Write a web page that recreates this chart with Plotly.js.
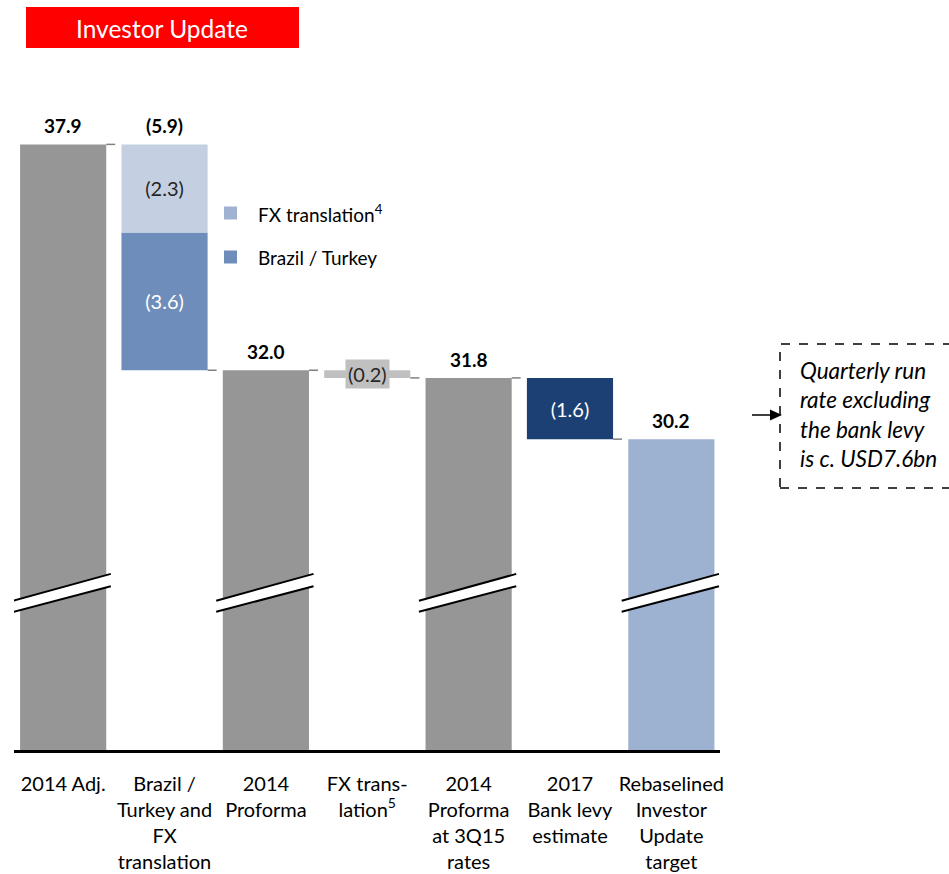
<!DOCTYPE html>
<html>
<head>
<meta charset="utf-8">
<script src="https://cdn.plot.ly/plotly-3.0.1.min.js"></script>
<style>html,body{margin:0;padding:0;background:#fff;}#chart{width:949px;height:874px;}</style>
</head>
<body>
<div id="chart"></div>
<script>
// ---- data ----
const categories = ["2014 Adj.", "Brazil /<br>Turkey and<br>FX<br>translation", "2014<br>Proforma", "FX trans-<br>lation<sup>5</sup>", "2014<br>Proforma<br>at 3Q15<br>rates", "2017<br>Bank levy<br>estimate", "Rebaselined<br>Investor<br>Update<br>target"];
const totalIdx = [0, 2, 4];
const totalValues = [37.9, 32.0, 31.8];
const targetIdx = [6];
const targetValues = [30.2];
const fxSegment = 2.3;          // FX translation part of step 1
const brazilSegment = 3.6;      // Brazil / Turkey part of step 1
const stepTotal = 5.9;
const fxStep = 0.2;             // FX translation step 3
const levyStep = 1.6;           // bank levy step 5
const legendNames = ["FX translation<sup>4</sup>", "Brazil / Turkey"];

// ---- styles ----
const FONT = "Lato, 'Open Sans', sans-serif";
const cGrey = "#969696", cFxLight = "#c4cfe2", cFxLegend = "#9fb2d1", cBrazil = "#6f8dba",
      cLevy = "#1c4073", cTarget = "#9db1d0", cSmall = "#c0c0c0";
const W = 0.85;
const L = 14, R = 229, T = 64, B = 124, WIDTH = 949, HEIGHT = 874;
const yMin = 22.08, yMax = 40;
const pw = WIDTH - L - R, ph = HEIGHT - T - B;
const px = x => (x - L) / pw;            // pixel -> paper x
const py = y => (HEIGHT - B - y) / ph;   // pixel -> paper y

const start = totalValues[0];
const afterStep1 = start - stepTotal;
const afterStep3 = afterStep1 - fxStep;
const afterStep5 = afterStep3 - levyStep;

const inFont = c => ({family: FONT, size: 20, color: c});
const traces = [
  {type: "bar", x: totalIdx, y: totalValues, width: W, marker: {color: cGrey}, showlegend: false, hoverinfo: "skip"},
  {type: "bar", x: targetIdx, y: targetValues, width: W, marker: {color: cTarget}, showlegend: false, hoverinfo: "skip"},
  {type: "bar", x: [1], y: [brazilSegment], base: [afterStep1], width: W, marker: {color: cBrazil}, showlegend: false,
   text: ["(" + brazilSegment.toFixed(1) + ")"], textposition: "inside", insidetextanchor: "middle",
   textfont: inFont("#ffffff"), hoverinfo: "skip"},
  {type: "bar", x: [1], y: [fxSegment], base: [afterStep1 + brazilSegment], width: W, marker: {color: cFxLight}, showlegend: false,
   text: ["(" + fxSegment.toFixed(1) + ")"], textposition: "inside", insidetextanchor: "middle",
   textfont: inFont("#262626"), hoverinfo: "skip"},
  {type: "bar", x: [3], y: [fxStep], base: [afterStep3], width: W, marker: {color: cSmall}, showlegend: false, hoverinfo: "skip"},
  {type: "bar", x: [5], y: [levyStep], base: [afterStep5], width: W, marker: {color: cLevy}, showlegend: false,
   text: ["(" + levyStep.toFixed(1) + ")"], textposition: "inside", insidetextanchor: "middle",
   textfont: inFont("#ffffff"), hoverinfo: "skip"}
];

const shapes = [];
const annotations = [];

// value labels on top
const valFont = {family: FONT, size: 19, color: "#000"};
totalIdx.forEach((i, k) => annotations.push({x: i, y: totalValues[k], xref: "x", yref: "y", text: "<b>" + totalValues[k].toFixed(1) + "</b>",
  showarrow: false, yanchor: "bottom", yshift: 5, font: valFont}));
targetIdx.forEach((i, k) => annotations.push({x: i, y: targetValues[k], xref: "x", yref: "y", text: "<b>" + targetValues[k].toFixed(1) + "</b>",
  showarrow: false, yanchor: "bottom", yshift: 5, font: valFont}));
annotations.push({x: 1, y: start, xref: "x", yref: "y", text: "<b>(" + stepTotal.toFixed(1) + ")</b>", showarrow: false, yanchor: "bottom", yshift: 5,
  font: valFont});
annotations.push({x: 3, y: afterStep3 + fxStep / 2, xref: "x", yref: "y", text: "(" + fxStep.toFixed(1) + ")", showarrow: false,
  bgcolor: cSmall, borderpad: 2, font: inFont("#262626")});

// dashed connectors
const levels = [start, afterStep1, afterStep1, afterStep3, afterStep3, afterStep5];
levels.forEach((v, i) => shapes.push({type: "line", xref: "x", yref: "y", x0: i + W / 2, x1: i + 1 - W / 2, y0: v, y1: v,
  line: {color: "#808080", width: 1.5, dash: "dash"}}));

// axis breaks
const breakIdx = [0, 2, 4, 6];
breakIdx.forEach(i => {
  const xl = i - 0.49, xr = i + 0.47;
  const uL = 25.98, uR = 26.68, lL = 25.69, lR = 26.36;
  shapes.push({type: "path", xref: "x", yref: "y", path: `M${xl},${uL} L${xr},${uR} L${xr},${lR} L${xl},${lL} Z`,
    fillcolor: "#ffffff", line: {width: 0}});
  shapes.push({type: "line", xref: "x", yref: "y", x0: xl, y0: uL, x1: xr, y1: uR, line: {color: "#000", width: 2}});
  shapes.push({type: "line", xref: "x", yref: "y", x0: xl, y0: lL, x1: xr, y1: lR, line: {color: "#000", width: 2}});
});

// legend (manual)
const legendColors = [cFxLegend, cBrazil];
const legendY = [213, 257];
legendNames.forEach((n, k) => {
  shapes.push({type: "rect", xref: "paper", yref: "paper", x0: px(224), x1: px(237), y0: py(legendY[k] + 6.5), y1: py(legendY[k] - 6.5),
    fillcolor: legendColors[k], line: {width: 0}});
  annotations.push({xref: "paper", yref: "paper", x: px(256), y: py(legendY[k]), xanchor: "left", yanchor: "middle", text: n,
    showarrow: false, font: {family: FONT, size: 19, color: "#000"}});
});

// title box
shapes.push({type: "rect", xref: "paper", yref: "paper", x0: px(26), x1: px(299), y0: py(48), y1: py(7), fillcolor: "#ff0000", line: {width: 0}});
annotations.push({xref: "paper", yref: "paper", x: px(162), y: py(28), text: "Investor Update", showarrow: false,
  font: {family: FONT, size: 24.5, color: "#ffffff"}, xanchor: "center", yanchor: "middle"});

// callout with arrow
shapes.push({type: "rect", xref: "paper", yref: "paper", x0: px(780), x1: px(1010), y0: py(488), y1: py(344), fillcolor: "rgba(0,0,0,0)",
  line: {color: "#000", width: 1.5, dash: "dash"}});
shapes.push({type: "line", xref: "paper", yref: "paper", x0: px(752), x1: px(772), y0: py(415), y1: py(415), line: {color: "#000", width: 1.5}});
shapes.push({type: "path", xref: "paper", yref: "paper",
  path: `M${px(770)},${py(409.5)} L${px(782)},${py(415)} L${px(770)},${py(420.5)} Z`, fillcolor: "#000", line: {width: 0}});
annotations.push({xref: "paper", yref: "paper", x: px(798), y: py(414), xanchor: "left", yanchor: "middle", align: "left",
  text: "<i>Quarterly run<br>rate excluding<br>the bank levy<br>is c. USD7.6bn</i>", showarrow: false,
  font: {family: FONT, size: 22.5, color: "#000"}});

const layout = {
  width: WIDTH, height: HEIGHT,
  margin: {l: L, r: R, t: T, b: B, pad: 0},
  paper_bgcolor: "#fff", plot_bgcolor: "#fff",
  barmode: "overlay", showlegend: false,
  font: {family: FONT, color: "#000"},
  xaxis: {range: [-0.485, 6.48], tickvals: categories.map((c, i) => i), ticktext: categories, showgrid: false, zeroline: false,
    showline: true, linecolor: "#000", linewidth: 2.5, ticks: "", ticklabelstandoff: 14,
    tickfont: {family: FONT, size: 20, color: "#000"}, fixedrange: true},
  yaxis: {range: [yMin, yMax], visible: false, showgrid: false, zeroline: false, fixedrange: true},
  shapes: shapes, annotations: annotations
};

Plotly.newPlot("chart", traces, layout, {displayModeBar: false, staticPlot: true});
</script>
</body>
</html>
